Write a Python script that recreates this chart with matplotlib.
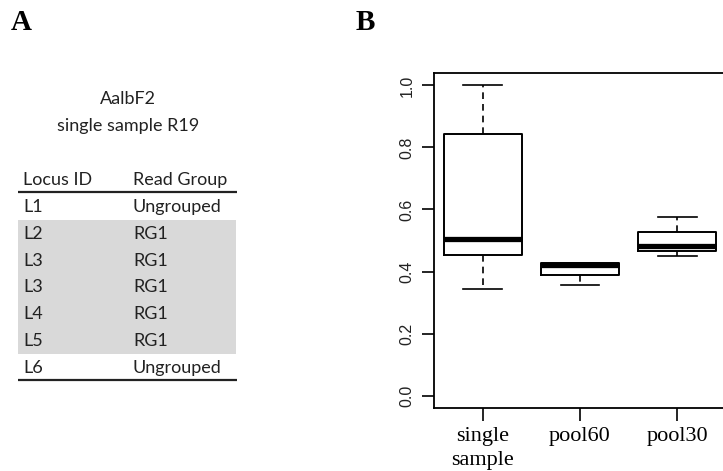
import matplotlib
matplotlib.use("Agg")
import matplotlib.pyplot as plt
from matplotlib.patches import Rectangle

# ---- Data ----
title_lines = ["AalbF2", "single sample R19"]
col_headers = ["Locus ID", "Read Group"]
locus_ids = ["L1", "L2", "L3", "L3", "L4", "L5", "L6"]
read_groups = ["Ungrouped", "RG1", "RG1", "RG1", "RG1", "RG1", "Ungrouped"]

groups = ["single\nsample", "pool60", "pool30"]
whis_lo = [0.345, 0.356, 0.451]
q1 = [0.452, 0.389, 0.467]
median = [0.504, 0.421, 0.481]
q3 = [0.843, 0.428, 0.528]
whis_hi = [1.000, 0.428, 0.577]
yticks = [0.0, 0.2, 0.4, 0.6, 0.8, 1.0]

W, H = 723, 471
fig = plt.figure(figsize=(W / 100, H / 100), dpi=100)

# ---- Panel A (pixel coordinates) ----
ov = fig.add_axes([0, 0, 1, 1])
ov.set_xlim(0, W)
ov.set_ylim(H, 0)
ov.axis("off")

ov.text(21, 23, "A", fontsize=21, fontweight="bold", family="Liberation Serif",
        ha="center", va="center")
ov.text(365, 23, "B", fontsize=21, fontweight="bold", family="Liberation Serif",
        ha="center", va="center")

tf = "Lato"
fs = 13
tc = "#222222"
ov.text(128, 99, title_lines[0], fontsize=fs, family=tf, ha="center", va="center", color=tc)
ov.text(128, 126, title_lines[1], fontsize=fs, family=tf, ha="center", va="center", color=tc)

x1, x2 = 23, 133
ov.text(x1, 180, col_headers[0], fontsize=fs, family=tf, ha="left", va="center", color=tc)
ov.text(x2, 180, col_headers[1], fontsize=fs, family=tf, ha="left", va="center", color=tc)
ov.plot([18, 237], [192, 192], color=tc, lw=1.6, solid_capstyle="butt")

row0, dy = 207, 26.8
ov.add_patch(Rectangle((18, row0 + dy * 0.5), 218, dy * 5, facecolor="#d9d9d9",
                       edgecolor="none", zorder=0))
for i, (lid, rg) in enumerate(zip(locus_ids, read_groups)):
    y = row0 + i * dy
    ov.text(x1, y, lid, fontsize=fs, family=tf, ha="left", va="center", color=tc)
    ov.text(x2, y, rg, fontsize=fs, family=tf, ha="left", va="center", color=tc)
ov.plot([18, 237], [380, 380], color=tc, lw=1.6, solid_capstyle="butt")

# ---- Panel B ----
left, right, top, bottom = 434, 726, 73, 408
ax = fig.add_axes([left / W, 1 - bottom / H, (right - left) / W, (bottom - top) / H])
stats = []
for i in range(len(groups)):
    stats.append(dict(whislo=whis_lo[i], q1=q1[i], med=median[i], q3=q3[i],
                      whishi=whis_hi[i], fliers=[], label=groups[i]))
ax.bxp(stats, positions=[1, 2, 3], widths=0.8, showfliers=False,
       boxprops=dict(color="black", linewidth=1.4),
       medianprops=dict(color="black", linewidth=3.8, solid_capstyle="butt"),
       whiskerprops=dict(color="black", linewidth=1.2, linestyle=(0, (4, 3))),
       capprops=dict(color="black", linewidth=1.2),
       capwidths=0.4)
ax.set_xlim(0.5, 3.5)
ax.set_ylim(-0.04, 1.04)
for s in ax.spines.values():
    s.set_linewidth(1.3)
ax.set_yticks(yticks)
ax.set_yticklabels([f"{v:.1f}" for v in yticks], rotation=90, va="center",
                   family="Liberation Sans", fontsize=11.5, color="#222222")
ax.set_xticks([1, 2, 3])
ax.set_xticklabels(groups, family="Liberation Serif", fontsize=16, linespacing=1.3)
ax.tick_params(axis="both", length=9, width=1.2)
ax.tick_params(axis="y", pad=5)
ax.tick_params(axis="x", pad=5)

fig.savefig("out.png", dpi=100)
